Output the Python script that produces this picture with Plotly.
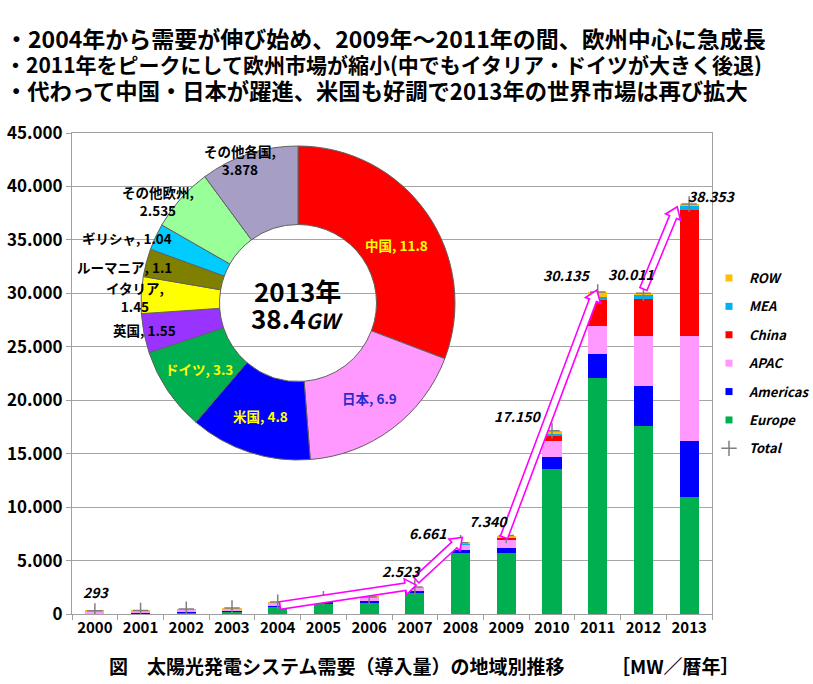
import math
import plotly.graph_objects as go

# ---------------- data ----------------
years = list(range(2000, 2014))
europe   = [50, 60, 130, 200, 700, 970, 1100, 2000, 5700, 5750, 13600, 22100, 17600, 10900]
americas = [40, 30, 50, 70, 90, 110, 150, 150, 280, 450, 1060, 2200, 3750, 5300]
apac     = [150, 200, 220, 240, 280, 300, 300, 310, 500, 800, 1550, 2600, 4700, 9850]
china    = [10, 10, 20, 10, 10, 10, 10, 20, 50, 160, 450, 2500, 3450, 11750]
mea      = [3, 5, 5, 5, 5, 5, 5, 10, 30, 40, 150, 250, 400, 450]
row      = [40, 25, 35, 35, 30, 35, 30, 33, 101, 140, 340, 485, 111, 103]
totals = [sum(v) for v in zip(europe, americas, apac, china, mea, row)]
labeled_years = [2000, 2007, 2008, 2009, 2010, 2011, 2012, 2013]

pie_labels = ["中国", "日本", "米国", "ドイツ", "英国", "イタリア", "ルーマニア", "ギリシャ", "その他欧州", "その他各国"]
pie_values = [11.8, 6.9, 4.8, 3.3, 1.55, 1.45, 1.1, 1.04, 2.535, 3.878]

# ---------------- styles ----------------
FONT = "Noto Sans CJK JP"
series = [
    ("Europe", europe, "#00B050"),
    ("Americas", americas, "#0000FF"),
    ("APAC", apac, "#FF99FF"),
    ("China", china, "#FF0000"),
    ("MEA", mea, "#00B0F0"),
    ("ROW", row, "#FFC000"),
]
legend_order = ["ROW", "MEA", "China", "APAC", "Americas", "Europe"]
pie_colors = ["#FF0000", "#FF99FF", "#0000FF", "#00B050", "#9933FF", "#FFFF00",
              "#808000", "#00CCFF", "#99FF99", "#A69EC4"]
pie_text_colors = ["#FFFF00", "#2A2ACC", "#FFFF00", "#FFFF00", "black", "black",
                   "black", "black", "black", "black"]
pie_breaks = {"イタリア", "その他欧州", "その他各国"}
pie_label_px = [(396, 245), (369, 398), (260, 416), (199, 369), (144, 330), (135, 297),
                (124, 267), (127, 238), (158, 201), (240, 160)]
# offsets (px) of total labels relative to the top of each bar
total_label_shift = {2000: (2, 19), 2007: (-13, 16), 2008: (-33, 10), 2009: (-18, 15),
                     2010: (-34, 15), 2011: (-31, 17), 2012: (-12, 19), 2013: (23, 8)}
# arrows: (from_year, dx_px, dy_px, to_year, dx_px, dy_px) relative to total points
arrows = [(2004, 2.3, -3.4, 2007, 1.4, 1.9),
          (2007, 1.4, 6.9, 2008, 1.8, 5.3),
          (2009, -2.3, -1.9, 2011, -0.9, 1.9),
          (2012, 0.0, 4.2, 2013, -11.9, -2.8)]

W, H = 813, 684
ML, MR, MT, MB = 72, 101, 133, 70
PW, PH = W - ML - MR, H - MT - MB
X0, X1 = 1999.5, 2013.5
Y0, Y1 = 0, 45000


def paper(px, py):
    return (px - ML) / PW, (H - MB - py) / PH


def d2p(x, y):
    return (x - X0) / (X1 - X0) * PW, (y - Y0) / (Y1 - Y0) * PH


def p2d(px, py):
    return X0 + px / PW * (X1 - X0), Y0 + py / PH * (Y1 - Y0)


def note(px, py, text, size, color="black", xanchor="center", height=None, **extra):
    x, y = paper(px, py)
    font = dict(family=FONT, size=size, color=color, weight="bold")
    font.update(extra)
    a = dict(x=x, y=y, xref="paper", yref="paper", xanchor=xanchor, yanchor="middle",
             showarrow=False, text=text, align="center", font=font)
    if height:
        a["height"] = height
    return a


fig = go.Figure()

for name, vals, col in series:
    fig.add_trace(go.Bar(x=years, y=vals, name=name, marker=dict(color=col, line=dict(width=0)),
                         width=0.42, showlegend=False))

for name in legend_order:
    col = dict((n, c) for n, _, c in series)[name]
    fig.add_trace(go.Scatter(x=[None], y=[None], mode="markers", name=name, legendgroup=name,
                             marker=dict(symbol="square", size=7, color=col)))

fig.add_trace(go.Scatter(x=years, y=totals, mode="markers", name="Total", legendgroup="Total",
                         marker=dict(symbol="cross-thin", size=11, color="#7F7F7F",
                                     line=dict(color="#7F7F7F", width=1.5))))

# donut
cx, cy, R = 298, 303, 157
dx0, dy0 = paper(cx - R, cy + R)
dx1, dy1 = paper(cx + R, cy - R)
fig.add_trace(go.Pie(labels=pie_labels, values=pie_values, sort=False, direction="clockwise",
                     rotation=0, hole=0.5, textinfo="none", showlegend=False,
                     marker=dict(colors=pie_colors, line=dict(color="#606060", width=1)),
                     domain=dict(x=[dx0, dx1], y=[dy0, dy1])))

annotations = []
for lab, val, col, (px, py) in zip(pie_labels, pie_values, pie_text_colors, pie_label_px):
    sep = ",<br>" if lab in pie_breaks else ", "
    annotations.append(note(px, py, f"{lab}{sep}{val}", 13.5, col))

annotations.append(note(297, 290, "2013年", 26, height=27))
annotations.append(note(297, 317, "38.4<i><span style='font-size:21px'>GW</span></i>", 26, height=27))

# total labels
for yr in labeled_years:
    t = totals[years.index(yr)]
    sx, sy = total_label_shift[yr]
    annotations.append(dict(x=yr, y=t, xref="x", yref="y", showarrow=False,
                            xanchor="center", yanchor="middle",
                            text=f"{t:,}".replace(",", "."), xshift=sx, yshift=sy,
                            font=dict(family=FONT, size=14, color="black", weight="bold",
                                      style="italic")))

# title lines
title_lines = ["・2004年から需要が伸び始め、2009年～2011年の間、欧州中心に急成長",
               "・2011年をピークにして欧州市場が縮小(中でもイタリア・ドイツが大きく後退)",
               "・代わって中国・日本が躍進、米国も好調で2013年の世界市場は再び拡大"]
title_sizes = [23, 21, 22.3]
for i, (line, sz) in enumerate(zip(title_lines, title_sizes)):
    annotations.append(note(3, 38 + 25.5 * i, line, sz, xanchor="left", height=25))

annotations.append(note(336, 665, "図　太陽光発電システム需要（導入量）の地域別推移", 19))
annotations.append(note(675, 665, "［MW／暦年］", 19))

# block arrows
shapes = []
for ya, ax_, ay_, yb, bx_, by_ in arrows:
    pa = d2p(ya, totals[years.index(ya)])
    pb = d2p(yb, totals[years.index(yb)])
    ax, ay = pa[0] + ax_, pa[1] + ay_
    bx, by = pb[0] + bx_, pb[1] + by_
    L = math.hypot(bx - ax, by - ay)
    ux, uy = (bx - ax) / L, (by - ay) / L
    nx, ny = -uy, ux
    sw, hw, hl = 3.8, 8.0, 11.0
    hx, hy = bx - ux * hl, by - uy * hl
    pts = [(ax + nx * sw, ay + ny * sw), (hx + nx * sw, hy + ny * sw),
           (hx + nx * hw, hy + ny * hw), (bx, by), (hx - nx * hw, hy - ny * hw),
           (hx - nx * sw, hy - ny * sw), (ax - nx * sw, ay - ny * sw)]
    d = [p2d(*p) for p in pts]
    path = "M " + " L ".join(f"{u:.5f},{v:.3f}" for u, v in d) + " Z"
    shapes.append(dict(type="path", path=path, xref="x", yref="y",
                       line=dict(color="#FF00FF", width=1.6), fillcolor="white", layer="above"))

lx, ly = paper(709, 263)
fig.update_layout(
    width=W, height=H,
    margin=dict(l=ML, r=MR, t=MT, b=MB, pad=0, autoexpand=False),
    paper_bgcolor="white", plot_bgcolor="white",
    separators=",.",
    barmode="stack",
    bargap=0.58,
    font=dict(family=FONT, color="black"),
    xaxis=dict(range=[X0, X1], tickmode="array", tickvals=years, ticktext=[str(y) for y in years],
               ticks="", showgrid=False, showline=True, linecolor="#A0A0A0", linewidth=1,
               mirror=True, zeroline=False,
               tickfont=dict(family=FONT, size=15, color="black", weight="bold"),
               minor=dict(tickmode="array", tickvals=[y + 0.5 for y in [1999] + years],
                          ticks="outside", ticklen=5, tickcolor="#A0A0A0", showgrid=False)),
    yaxis=dict(range=[Y0, Y1], dtick=5000, tick0=0, tickformat=",.0f", showgrid=True,
               gridcolor="#A6A6A6", gridwidth=1, showline=True, linecolor="#A0A0A0",
               mirror=True, zeroline=False, ticks="outside", ticklen=5, tickcolor="#A0A0A0",
               tickfont=dict(family=FONT, size=17, color="black", weight="bold")),
    legend=dict(x=lx, y=ly, xanchor="left", yanchor="top", traceorder="grouped",
                tracegroupgap=8.5, bgcolor="rgba(0,0,0,0)",
                font=dict(family=FONT, size=13, color="black", weight="bold", style="italic")),
    annotations=annotations,
    shapes=shapes,
)

fig.write_html("out.html")
